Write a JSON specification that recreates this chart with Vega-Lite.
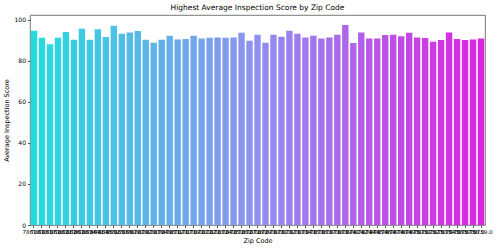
{
  "$schema": "https://vega.github.io/schema/vega-lite/v6.json",
  "autosize": "none",
  "padding": {"left": 30, "top": 15, "right": 15, "bottom": 25},
  "width": 455,
  "height": 210,
  "background": "white",
  "title": {
    "text": "Highest Average Inspection Score by Zip Code",
    "font": "DejaVu Sans",
    "fontSize": 7.5,
    "fontWeight": "normal",
    "color": "black",
    "anchor": "middle",
    "offset": 4
  },
  "config": {
    "view": {"stroke": "#555555", "strokeWidth": 0.8},
    "axis": {
      "labelFont": "DejaVu Sans",
      "titleFont": "DejaVu Sans",
      "titleFontWeight": "normal",
      "labelColor": "black",
      "titleColor": "black",
      "domainColor": "#555555",
      "tickColor": "#555555",
      "tickSize": 2.5,
      "grid": false
    }
  },
  "data": {
    "values": [
      {"zip": "78610.0", "score": 94.6},
      {"zip": "78613.0", "score": 91.2},
      {"zip": "78617.0", "score": 88.0},
      {"zip": "78620.0", "score": 91.2},
      {"zip": "78621.0", "score": 94.0},
      {"zip": "78626.0", "score": 90.3},
      {"zip": "78628.0", "score": 95.6},
      {"zip": "78634.0", "score": 90.3},
      {"zip": "78641.0", "score": 95.3},
      {"zip": "78645.0", "score": 91.6},
      {"zip": "78652.0", "score": 97.1},
      {"zip": "78653.0", "score": 93.2},
      {"zip": "78660.0", "score": 93.8},
      {"zip": "78701.0", "score": 94.5},
      {"zip": "78702.0", "score": 90.3},
      {"zip": "78703.0", "score": 88.8},
      {"zip": "78704.0", "score": 90.3},
      {"zip": "78705.0", "score": 92.2},
      {"zip": "78712.0", "score": 90.4},
      {"zip": "78717.0", "score": 90.6},
      {"zip": "78719.0", "score": 92.2},
      {"zip": "78721.0", "score": 90.8},
      {"zip": "78722.0", "score": 91.2},
      {"zip": "78723.0", "score": 91.4},
      {"zip": "78724.0", "score": 91.2},
      {"zip": "78725.0", "score": 91.4},
      {"zip": "78726.0", "score": 93.7},
      {"zip": "78727.0", "score": 89.8},
      {"zip": "78728.0", "score": 92.7},
      {"zip": "78729.0", "score": 88.8},
      {"zip": "78730.0", "score": 92.7},
      {"zip": "78731.0", "score": 91.7},
      {"zip": "78732.0", "score": 94.6},
      {"zip": "78733.0", "score": 93.2},
      {"zip": "78734.0", "score": 91.4},
      {"zip": "78735.0", "score": 92.2},
      {"zip": "78736.0", "score": 90.9},
      {"zip": "78737.0", "score": 91.4},
      {"zip": "78738.0", "score": 92.7},
      {"zip": "78739.0", "score": 97.4},
      {"zip": "78741.0", "score": 88.7},
      {"zip": "78742.0", "score": 93.8},
      {"zip": "78744.0", "score": 90.8},
      {"zip": "78745.0", "score": 90.9},
      {"zip": "78746.0", "score": 92.5},
      {"zip": "78747.0", "score": 92.7},
      {"zip": "78748.0", "score": 91.9},
      {"zip": "78749.0", "score": 93.7},
      {"zip": "78750.0", "score": 91.4},
      {"zip": "78751.0", "score": 91.1},
      {"zip": "78752.0", "score": 89.3},
      {"zip": "78753.0", "score": 90.1},
      {"zip": "78754.0", "score": 93.8},
      {"zip": "78756.0", "score": 90.6},
      {"zip": "78757.0", "score": 90.1},
      {"zip": "78758.0", "score": 90.4},
      {"zip": "78759.0", "score": 90.8}
    ]
  },
  "transform": [
    {"window": [{"op": "row_number", "as": "order"}]}
  ],
  "mark": {"type": "bar"},
  "encoding": {
    "x": {
      "field": "zip",
      "type": "nominal",
      "sort": null,
      "scale": {"paddingInner": 0.2, "paddingOuter": 0.1},
      "axis": {
        "title": "Zip Code",
        "labelAngle": 0,
        "labelFontSize": 5.5,
        "labelOverlap": false,
        "labelPadding": 1.5,
        "titleFontSize": 6.5,
        "titlePadding": 3,
        "domain": false
      }
    },
    "y": {
      "field": "score",
      "type": "quantitative",
      "scale": {"domain": [0, 102.3], "nice": false, "zero": true},
      "axis": {
        "title": "Average Inspection Score",
        "values": [0, 20, 40, 60, 80, 100],
        "labelFontSize": 6,
        "titleFontSize": 6.5,
        "labelPadding": 2,
        "titlePadding": 5,
        "domain": false
      }
    },
    "color": {
      "field": "order",
      "type": "quantitative",
      "legend": null,
      "scale": {
        "domain": [0, 14.5, 29, 43.5, 58],
        "range": ["#20dfdf", "#58b7e7", "#9090ef", "#b758e7", "#df20df"],
        "interpolate": "rgb"
      }
    }
  }
}
